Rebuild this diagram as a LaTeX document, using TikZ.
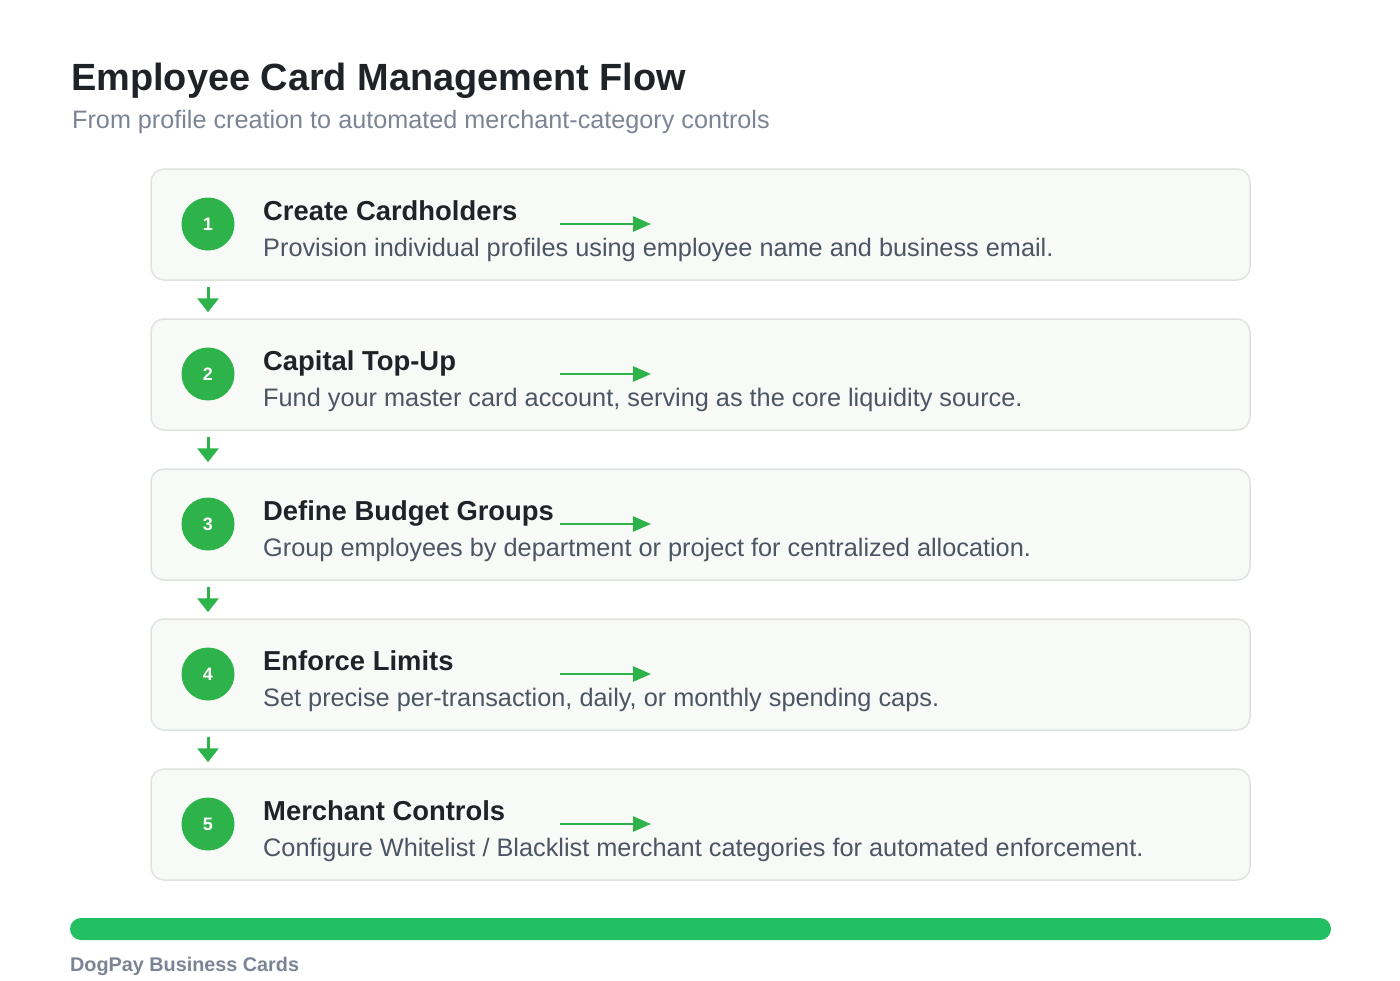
\documentclass[tikz,border=0pt]{standalone}
\usepackage{fontspec}
\setmainfont{Liberation Sans}
\usepackage{xcolor}
\usetikzlibrary{positioning,calc,arrows.meta}
\definecolor{stepgreen}{HTML}{2DB34A}
\definecolor{barGreen}{HTML}{22C063}
\definecolor{boxfill}{HTML}{F8FAF8}
\definecolor{boxline}{HTML}{DFE3DF}
\definecolor{titlegray}{HTML}{1F2328}
\definecolor{descgray}{HTML}{4B5563}
\definecolor{subgray}{HTML}{7B8494}

\begin{document}
\begin{tikzpicture}[x=1pt, y=-1pt,
    stepbox/.style={draw=boxline, line width=1.5pt, fill=boxfill, rounded corners=13pt,
        minimum width=1099pt, minimum height=111pt, inner sep=0pt},
    stepnum/.style={circle, fill=stepgreen, minimum size=53pt, inner sep=0pt,
        text=white, font=\bfseries\fontsize{18}{21}\selectfont},
    steptitle/.style={anchor=base west, inner sep=0pt, text=titlegray,
        font=\bfseries\fontsize{27.4}{32}\selectfont},
    stepdesc/.style={anchor=base west, inner sep=0pt, text=descgray,
        font=\fontsize{25.3}{30}\selectfont},
    downarrow/.style={draw=stepgreen, line width=3pt, -{Triangle[width=21pt,length=14pt]}},
    flowarrow/.style={draw=stepgreen, line width=2.5pt, -{Triangle[width=15pt,length=18pt]}}]
    \useasboundingbox (0,0) rectangle (1400,980);

    % Heading
    \node[anchor=base west, inner sep=0pt, text=titlegray,
        font=\bfseries\fontsize{37.9}{44}\selectfont] (title) at (71,90) {Employee Card Management Flow};
    \node[anchor=base west, inner sep=0pt, text=subgray,
        font=\fontsize{25.2}{30}\selectfont] (subtitle) at (72,128) {From profile creation to automated merchant-category controls};

    % Steps
    \foreach \i/\t/\d in {
        1/Create Cardholders/{Provision individual profiles using employee name and business email.},
        2/Capital Top-Up/{Fund your master card account, serving as the core liquidity source.},
        3/Define Budget Groups/{Group employees by department or project for centralized allocation.},
        4/Enforce Limits/{Set precise per-transaction, daily, or monthly spending caps.},
        5/Merchant Controls/{Configure Whitelist / Blacklist merchant categories for automated enforcement.}} {
        \pgfmathsetmacro{\top}{169+(\i-1)*150}
        \node[stepbox] (box\i) at (700.5,\top+55.5) {};
        \node[stepnum] (num\i) at (208,\top+55) {\i};
        \node[steptitle] (name\i) at (263,\top+51) {\t};
        \node[stepdesc] (desc\i) at (263,\top+87) {\d};
        \coordinate (from\i) at (560,\top+55);
        \coordinate (to\i) at (651,\top+55);
        \draw[flowarrow] (from\i) -- (to\i);
    }

    % Links between steps
    \foreach \i [count=\j from 2] in {1,...,4}
        \draw[downarrow] ($(num\i |- box\i.south)+(0,6)$) -- ($(num\j |- box\j.north)+(0,-6)$);

    % Footer
    \fill[barGreen, rounded corners=11pt] (70,918) rectangle (1331,940);
    \node[anchor=base west, inner sep=0pt, text=subgray,
        font=\bfseries\fontsize{19.8}{23}\selectfont] (brand) at (70,971) {DogPay Business Cards};
\end{tikzpicture}
\end{document}
